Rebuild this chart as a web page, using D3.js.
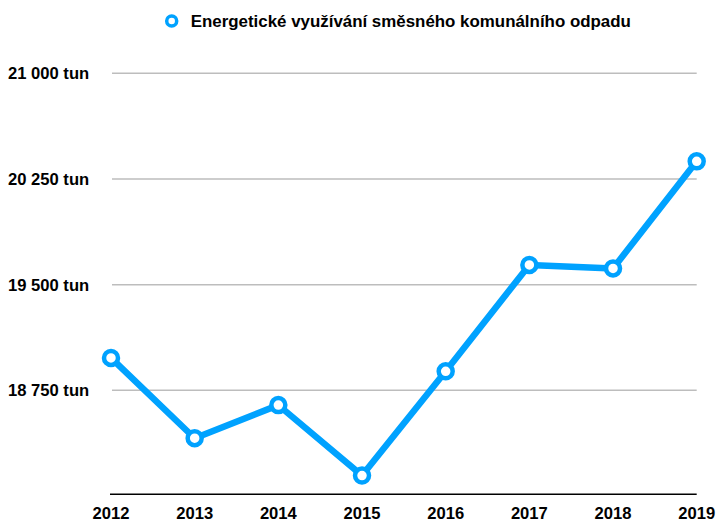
<!DOCTYPE html>
<html>
<head>
<meta charset="utf-8">
<script src="https://cdn.jsdelivr.net/npm/d3@7"></script>
<style>
  body { margin: 0; background: #fff; }
  text { font-family: 'Liberation Sans', Arial, Helvetica, sans-serif; font-weight: bold; fill: #000; }
</style>
</head>
<body>
<div id="viz"></div>
<script>
'use strict';

const years = ['2012', '2013', '2014', '2015', '2016', '2017', '2018', '2019'];
const values = [18980, 18410, 18645, 18145, 18885, 19640, 19615, 20375];
const yTicks = [18750, 19500, 20250, 21000];
const seriesName = 'Energetické využívání směsného komunálního odpadu';

const W = 717, H = 522;
const blue = '#00a2ff';

const svg = d3.select('#viz')
  .append('svg')
    .attr('width', W)
    .attr('height', H);

const x = d3.scalePoint()
  .domain(years)
  .range([111, 696.7]);

const y = d3.scaleLinear()
  .domain([18000, 21000])
  .range([496, 73.3]);

const fmt = v => d3.format(',')(v).replace(',', ' ') + ' tun';

// gridlines + y labels
svg.append('g')
  .selectAll('line')
  .data(yTicks)
  .join('line')
    .attr('x1', 112)
    .attr('x2', 696.7)
    .attr('y1', d => y(d))
    .attr('y2', d => y(d))
    .attr('stroke', '#bdbdbd')
    .attr('stroke-width', 1.5);

svg.append('g')
  .selectAll('text')
  .data(yTicks)
  .join('text')
    .attr('x', 8)
    .attr('y', d => y(d))
    .attr('dy', '0.36em')
    .style('font-size', '16.6px')
    .text(fmt);

// baseline
svg.append('line')
  .attr('x1', 110)
  .attr('x2', 696.7)
  .attr('y1', 494.3)
  .attr('y2', 494.3)
  .attr('stroke', '#000')
  .attr('stroke-width', 1.6);

// x labels
svg.append('g')
  .selectAll('text')
  .data(years)
  .join('text')
    .attr('x', d => x(d))
    .attr('y', 513)
    .attr('dy', '0.36em')
    .attr('text-anchor', 'middle')
    .style('font-size', '16.6px')
    .text(d => d);

const data = years.map((yr, i) => ({year: yr, value: values[i]}));

// line
svg.append('path')
  .datum(data)
  .attr('fill', 'none')
  .attr('stroke', blue)
  .attr('stroke-width', 6.5)
  .attr('stroke-linejoin', 'round')
  .attr('d', d3.line()
    .x(d => x(d.year))
    .y(d => y(d.value))
  );

// markers
svg.append('g')
  .selectAll('circle')
  .data(data)
  .join('circle')
    .attr('cx', d => x(d.year))
    .attr('cy', d => y(d.value))
    .attr('r', 7)
    .attr('fill', '#fff')
    .attr('stroke', blue)
    .attr('stroke-width', 4.5);

// legend
const legend = svg.append('g');
legend.append('circle')
  .attr('cx', 171.7)
  .attr('cy', 21)
  .attr('r', 5)
  .attr('fill', '#fff')
  .attr('stroke', blue)
  .attr('stroke-width', 3.5);
legend.append('text')
  .attr('x', 190.7)
  .attr('y', 21)
  .attr('dy', '0.36em')
  .style('font-size', '16.9px')
  .text(seriesName);
</script>
</body>
</html>
